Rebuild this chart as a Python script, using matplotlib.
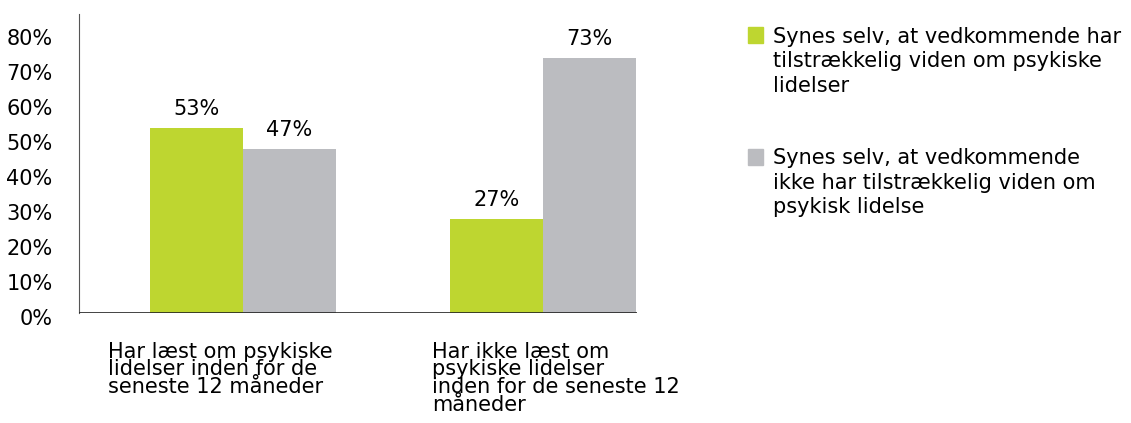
import numpy as np
import matplotlib
matplotlib.use("Agg")
import matplotlib.pyplot as plt
import matplotlib.transforms as mtransforms
from matplotlib.patches import Rectangle

plt.rcParams['font.family'] = ['Liberation Sans Narrow', 'DejaVu Sans']

# data
categories = ["Har læst om psykiske\nlidelser inden for de\nseneste 12 måneder",
              "Har ikke læst om\npsykiske lidelser\ninden for de seneste 12\nmåneder"]
series_names = ["Synes selv, at vedkommende har\ntilstrækkelig viden om psykiske\nlidelser",
                "Synes selv, at vedkommende\nikke har tilstrækkelig viden om\npsykisk lidelse"]
har_viden = [53, 27]
ikke_viden = [47, 73]
yticks = [0, 10, 20, 30, 40, 50, 60, 70, 80]

green = "#bed630"
grey = "#bbbcc0"
fs = 15

fig = plt.figure(figsize=(11.31, 4.23), dpi=100)
ax = fig.add_axes([0.0698, 0.26, 0.4934, 0.707])

x = np.arange(len(categories))
w = 0.31
b1 = ax.bar(x - w / 2, har_viden, w, color=green, zorder=2)
b2 = ax.bar(x + w / 2, ikke_viden, w, color=grey, zorder=2)

for bars, vals in [(b1, har_viden), (b2, ikke_viden)]:
    for r, v in zip(bars, vals):
        ax.annotate(f"{v}%", (r.get_x() + r.get_width() / 2, v),
                    xytext=(0, 6), textcoords="offset points",
                    ha="center", va="bottom", fontsize=fs)

ax.set_xlim(-0.547, 1.313)
ax.set_ylim(0, 85.5)
ax.set_yticks(yticks)
ax.set_yticklabels([f"{t}%" for t in yticks], fontsize=fs)
ax.tick_params(axis="y", length=0, pad=19)
# labels sit a few pixels under their gridline in the original
shift = mtransforms.ScaledTranslation(0, -3 / 72, fig.dpi_scale_trans)
for lab in ax.get_yticklabels():
    lab.set_transform(lab.get_transform() + shift)
ax.set_xticks([])
for s in ["top", "right", "bottom"]:
    ax.spines[s].set_visible(False)
ax.spines["left"].set_color("#555555")
ax.axhline(0, color="#222222", lw=1.2, zorder=3)

# category labels under groups
label_off = [-0.45, -0.37]
for xi, off, c in zip(x, label_off, categories):
    ax.text(xi + off, -8.2, c, ha="left", va="top", fontsize=fs,
            linespacing=0.85, clip_on=False)

# legend drawn by hand
leg_y = [0.917, 0.629]
for col, name, yy in zip([green, grey], series_names, leg_y):
    fig.patches.append(Rectangle((0.6615, yy - 0.018), 0.0133, 0.036,
                                 transform=fig.transFigure, color=col))
    fig.text(0.6835, yy + 0.02, name, ha="left", va="top", fontsize=fs,
             linespacing=1.28)

fig.savefig("out.png", dpi=100)
